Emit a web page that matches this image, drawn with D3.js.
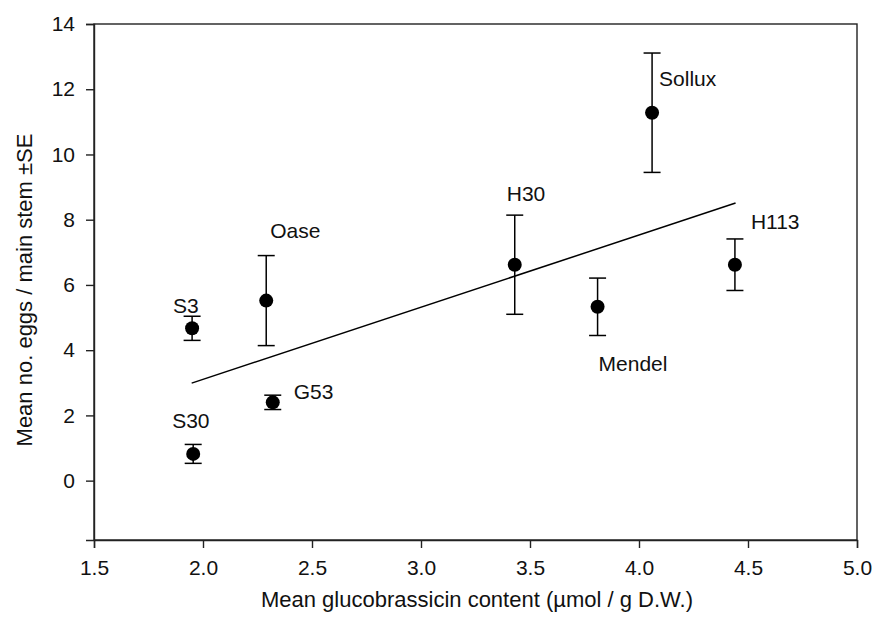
<!DOCTYPE html>
<html>
<head>
<meta charset="utf-8">
<script src="https://cdn.jsdelivr.net/npm/d3@7"></script>
<style>
  body { margin: 0; background: #fff; }
  text { font-family: "Liberation Sans", Arial, sans-serif; fill: #111; }
</style>
</head>
<body>
<div class="chart"></div>
<script>
// cultivars, mean glucobrassicin (x), mean eggs (y), standard error
var cultivars = ["S3", "S30", "G53", "Oase", "H30", "Sollux", "Mendel", "H113"];
var glucobrassicin = [1.95, 1.955, 2.32, 2.29, 3.43, 4.06, 3.81, 4.44];
var eggs = [4.67, 0.82, 2.40, 5.52, 6.62, 11.28, 5.33, 6.62];
var se = [0.37, 0.29, 0.22, 1.38, 1.52, 1.83, 0.88, 0.79];

// regression line endpoints
var fitX = [1.948, 4.443];
var fitY = [2.99, 8.51];

var xTicks = [1.5, 2.0, 2.5, 3.0, 3.5, 4.0, 4.5, 5.0];
var yTicks = [0, 2, 4, 6, 8, 10, 12, 14];

// label placement (pixel offset from the point)
var labelOffset = {
    "S3": [-19, -15], "S30": [-21, -26], "G53": [21, -3], "Oase": [4, -63],
    "H30": [-8, -64], "Sollux": [7, -27], "H113": [16, -36], "Mendel": [1, 64]
};

var margin = {top: 24, right: 17, bottom: 79, left: 94},
    width = 874 - margin.left - margin.right,
    height = 619 - margin.top - margin.bottom;

var x = d3.scaleLinear().domain([1.5, 5.0]).range([0, width]);
var y = d3.scaleLinear().domain([-1.82, 14]).range([height, 0]);

var svg = d3.select("div.chart").append("svg")
    .attr("width", 874)
    .attr("height", 619)
    .append("g")
    .attr("transform", "translate(" + margin.left + "," + margin.top + ")");

// frame
svg.append("rect")
    .attr("width", width)
    .attr("height", height)
    .attr("fill", "none")
    .attr("stroke", "#222")
    .attr("stroke-width", 1.4);

var xAxis = d3.axisBottom(x).tickValues(xTicks).tickFormat(d3.format(".1f")).tickSize(8).tickPadding(12);
var yAxis = d3.axisLeft(y).tickValues(yTicks).tickFormat(d3.format("d")).tickSize(8).tickPadding(11);

var gx = svg.append("g")
    .attr("transform", "translate(0," + height + ")")
    .call(xAxis);
var gy = svg.append("g").call(yAxis);

[gx, gy].forEach(function (g) {
    g.select(".domain").attr("stroke", "#222").attr("stroke-width", 1.4);
    g.selectAll(".tick line").attr("stroke", "#222").attr("stroke-width", 1.4);
    g.selectAll(".tick text").attr("font-size", "21px").attr("fill", "#111")
        .style("font-family", "'Liberation Sans', Arial, sans-serif");
});

// regression line
svg.append("line")
    .attr("x1", x(fitX[0])).attr("y1", y(fitY[0]))
    .attr("x2", x(fitX[1])).attr("y2", y(fitY[1]))
    .attr("stroke", "#000")
    .attr("stroke-width", 1.5);

var data = cultivars.map(function (c, i) {
    return {name: c, x: glucobrassicin[i], y: eggs[i], se: se[i]};
});

var pts = svg.selectAll("g.pt").data(data).enter().append("g").attr("class", "pt");

pts.append("line")
    .attr("x1", function (d) { return x(d.x); })
    .attr("x2", function (d) { return x(d.x); })
    .attr("y1", function (d) { return y(d.y + d.se); })
    .attr("y2", function (d) { return y(d.y - d.se); })
    .attr("stroke", "#000").attr("stroke-width", 1.5);

[1, -1].forEach(function (s) {
    pts.append("line")
        .attr("x1", function (d) { return x(d.x) - 8.5; })
        .attr("x2", function (d) { return x(d.x) + 8.5; })
        .attr("y1", function (d) { return y(d.y + s * d.se); })
        .attr("y2", function (d) { return y(d.y + s * d.se); })
        .attr("stroke", "#000").attr("stroke-width", 1.5);
});

pts.append("circle")
    .attr("cx", function (d) { return x(d.x); })
    .attr("cy", function (d) { return y(d.y); })
    .attr("r", 7)
    .attr("fill", "#000");

pts.append("text")
    .attr("x", function (d) { return x(d.x) + labelOffset[d.name][0]; })
    .attr("y", function (d) { return y(d.y) + labelOffset[d.name][1]; })
    .attr("font-size", "21px")
    .text(function (d) { return d.name; });

// axis titles
svg.append("text")
    .attr("x", 477 - margin.left)
    .attr("y", 607 - margin.top)
    .attr("text-anchor", "middle")
    .attr("font-size", "22px")
    .text("Mean glucobrassicin content (µmol / g D.W.)");

svg.append("text")
    .attr("transform", "translate(" + (32 - margin.left) + "," + (290 - margin.top) + ") rotate(-90)")
    .attr("text-anchor", "middle")
    .attr("font-size", "22px")
    .text("Mean no. eggs / main stem ±SE");
</script>
</body>
</html>
